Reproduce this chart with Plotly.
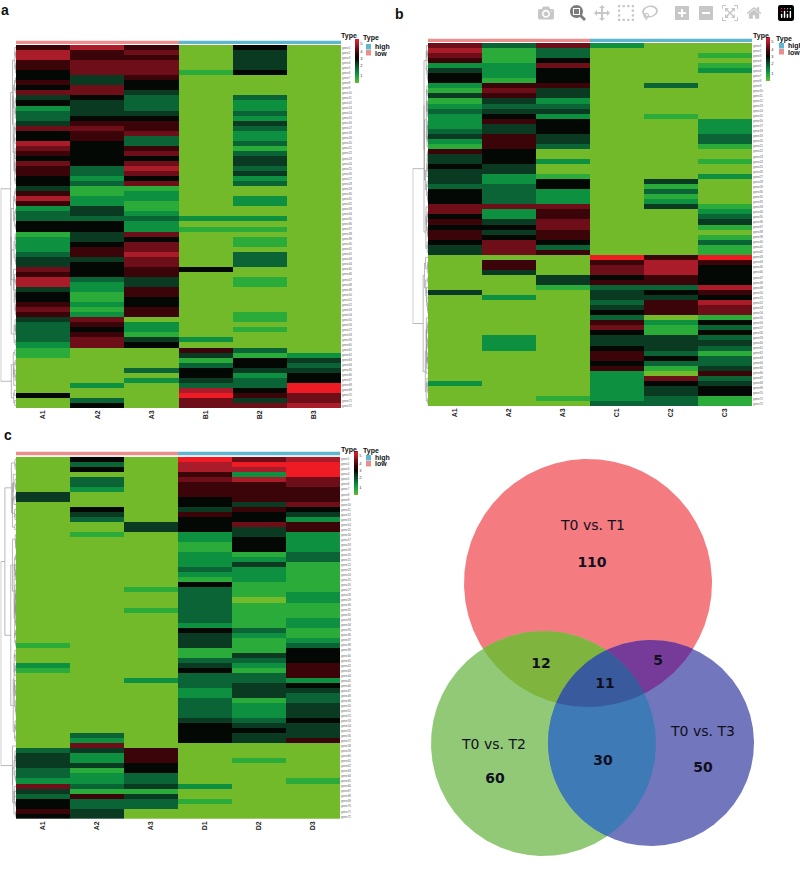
import numpy as np
import plotly.graph_objects as go

W, H = 800, 869

# expression levels: 0 = lime ... 5 = black ... 9 = bright red
a_A1 = [6,8,8,6,6,5,5,6,5,7, 4,5,2,3,3,4,7,5,5,8, 7,6,5,7,6,6,5,5,4,6, 8,6,2,3,3,5,5,1,2,2,
        2,3,4,4,7,6,8,8,4,5, 5,6,7,6,4,3,3,3,3,2, 1,1,0,0,0,0,0,0,0,5,0,0]
a_A2 = [8,6,6,7,7,7,4,4,7,7, 5,4,4,4,5,6,7,6,6,5, 5,5,5,5,3,3,2,3,1,1, 2,2,4,4,3,5,5,4,4,5,
        6,6,4,5,5,5,3,2,2,1, 1,2,1,2,7,6,5,6,7,7, 0,0,0,0,0,0,0,2,0,0,3,5]
a_A3 = [6,7,6,7,7,7,6,5,5,4, 3,3,3,4,5,6,6,7,3,3, 6,7,5,7,8,7,5,7,1,2, 2,1,1,2,3,2,2,7,5,7,
        7,8,7,7,6,6,4,4,6,6, 5,5,6,6,0,2,2,1,4,5, 0,0,0,0,3,0,2,0,0,0,0,0]
a_B1 = [0,0,0,0,0,1,0,0,0,0, 0,0,0,0,0,0,0,0,0,0, 0,0,0,0,0,0,0,0,0,0, 0,0,0,0,2,0,1,0,0,0,
        0,0,0,0,5,0,0,0,0,0, 0,0,0,0,0,0,0,0,2,0, 6,4,1,3,5,5,4,3,8,9,7,7]
a_B2 = [5,4,4,4,4,5,0,0,0,0, 3,2,2,3,2,4,3,2,2,3, 1,3,4,4,3,4,2,3,0,0, 2,2,0,0,2,0,1,0,1,1,
        0,3,3,3,0,0,1,1,0,0, 0,0,0,1,1,0,1,0,0,0, 3,1,5,5,4,2,3,3,5,6,4,7]
a_B3 = [0,0,0,0,0,0,0,0,0,0, 0,0,0,0,0,0,0,0,0,0, 0,0,0,0,0,0,0,0,0,0, 0,0,0,0,0,0,0,0,0,0,
        0,0,0,0,0,0,0,0,0,0, 0,0,0,0,0,0,0,0,0,0, 0,2,4,3,4,5,5,9,9,7,7,8]

b_A1 = [7,8,7,6,2,4,5,5,2,1, 4,1,2,3,2,2,2,3,4,2, 1,6,4,4,5,4,4,4,3,5, 5,5,7,7,5,6,5,6,6,5,
        4,4,0,0,0,0,0,0,0,4, 0,0,0,0,0,0,0,0,0,0, 0,0,0,0,0,0,0,2,0,0,0,0]
b_A2 = [3,1,1,1,2,2,2,1,6,7, 6,4,3,4,5,6,4,4,6,6, 6,5,5,5,4,4,2,2,3,3, 3,3,7,2,2,4,5,4,5,7,
        7,7,0,6,6,4,0,0,0,0, 2,0,0,0,0,0,0,0,2,2, 2,0,0,0,0,0,0,0,0,0,0,0]
b_A3 = [7,3,3,5,7,5,5,5,6,4, 4,2,3,4,2,5,5,5,4,4, 3,0,0,2,0,0,1,5,5,2, 2,2,7,6,6,7,7,6,6,5,
        3,6,0,0,0,0,4,4,1,0, 0,0,0,0,0,0,0,0,0,0, 0,0,0,0,0,0,0,0,0,0,1,0]
b_C1 = [2,0,0,0,0,0,0,0,0,0, 0,0,0,0,0,0,0,0,0,0, 0,0,0,0,0,0,0,0,0,0, 0,0,0,0,0,0,0,0,0,0,
        0,0,9,6,7,7,5,6,3,4, 4,3,4,5,3,6,7,5,4,4, 5,6,6,5,6,2,2,2,2,2,2,3]
b_C2 = [0,0,0,0,0,0,0,0,3,0, 0,0,0,0,1,0,0,0,0,0, 0,0,0,0,0,0,0,4,1,3, 1,2,4,0,0,0,0,0,0,0,
        0,0,6,8,8,8,6,6,3,5, 4,6,6,6,0,2,1,1,4,4, 4,3,5,3,1,0,7,5,4,4,3,3]
b_C3 = [0,0,1,0,1,2,0,0,0,0, 0,0,0,0,0,2,2,2,3,3, 1,0,0,1,0,0,2,0,0,0, 0,0,1,2,3,4,1,0,1,3,
        1,1,9,6,5,5,5,5,8,6, 5,8,7,7,1,5,3,5,3,4, 3,1,3,3,4,6,3,4,5,5,1,1]

c_A1 = [0,0,0,0,0,0,0,4,4,0, 0,0,0,0,0,0,0,0,0,0, 0,0,0,0,0,0,0,0,0,0, 0,0,0,0,0,0,0,1,0,0,
        0,2,1,0,0,0,0,0,0,0, 0,0,0,0,0,0,0,0,3,4, 4,4,3,3,2,7,4,3,5,5,6,5]
c_A2 = [5,3,5,0,3,3,2,0,0,0, 5,4,3,0,0,1,0,0,0,0, 0,0,0,0,0,0,0,0,0,0, 0,0,0,0,0,0,0,0,0,0,
        0,0,0,0,0,0,0,0,0,0, 0,0,0,0,0,3,2,7,4,2, 2,4,1,2,2,3,1,6,3,3,4,4]
c_A3 = [0,0,0,0,0,0,0,0,0,0, 0,0,0,4,4,0,0,0,0,0, 0,0,0,0,0,0,1,0,0,0, 1,0,0,0,0,0,0,0,0,0,
        0,0,0,0,2,0,0,0,0,0, 0,0,0,0,0,0,0,0,6,6, 6,5,5,3,3,4,1,4,3,3,0,0]
c_D1 = [9,8,8,6,7,6,6,6,5,5, 4,6,5,5,5,2,2,1,1,2, 2,2,3,2,1,5,3,3,3,3, 3,3,3,2,5,4,4,4,1,1,
        3,4,5,3,3,3,2,2,3,3, 3,3,4,5,5,5,5,0,0,0, 0,0,0,0,0,2,0,0,1,0,0,0]
c_D2 = [7,9,8,2,8,6,6,6,6,4, 6,5,5,7,4,4,5,5,5,1, 2,4,2,2,2,1,1,1,0,1, 1,1,1,1,3,2,1,1,1,4,
        3,2,1,3,3,4,4,4,1,2, 2,2,3,4,5,4,4,0,0,0, 1,0,0,0,0,0,0,0,0,0,0,0]
c_D3 = [8,9,9,9,7,7,6,6,6,7, 5,4,2,6,6,2,2,2,2,3, 3,1,1,1,1,1,1,2,2,1, 1,1,2,2,1,1,2,3,5,5,
        5,6,6,6,2,5,4,3,3,4, 4,4,5,4,4,4,6,0,0,0, 0,0,0,0,1,0,0,0,0,0,0,0]

labels_a = ["A1", "A2", "A3", "B1", "B2", "B3"]
labels_b = ["A1", "A2", "A3", "C1", "C2", "C3"]
labels_c = ["A1", "A2", "A3", "D1", "D2", "D3"]
sample_type = [0, 0, 0, 1, 1, 1]  # low, low, low, high, high, high
colorbar_ticks = ["1", "2", "3", "4", "5"]

venn_names = ["T0 vs. T1", "T0 vs. T2", "T0 vs. T3"]
venn_totals = [110, 60, 50]
venn_pairs = [12, 5, 30]  # T1&T2, T1&T3, T2&T3
venn_all = 11

heat_scale = [[0, "#72ba2a"], [1/9, "#2bab3a"], [2/9, "#0d9140"], [3/9, "#0a6435"], [4/9, "#0a3a22"],
              [5/9, "#040804"], [6/9, "#3a0408"], [7/9, "#6e0e18"], [8/9, "#aa1c2a"], [1, "#ee1a24"]]
type_scale = [[0, "#ea8f8d"], [1, "#5cb7cf"]]
FONT = "Liberation Sans"


def xdom(a, b):
    return [a / W, b / W]


def ydom(top, bottom):
    return [1 - bottom / H, 1 - top / H]


def dendro_lines(rows):
    # adjacent-only clustering so the leaves stay in the heatmap's row order
    clusters = [dict(y=i, h=0.0, v=r.astype(float), n=1) for i, r in enumerate(rows)]
    xs, ys = [], []
    while len(clusters) > 1:
        d = []
        for p, q in zip(clusters[:-1], clusters[1:]):
            w = p["n"] * q["n"] / (p["n"] + q["n"])
            d.append(np.sqrt(2 * w) * np.linalg.norm(p["v"] - q["v"]))
        k = int(np.argmin(d))
        p, q = clusters[k], clusters[k + 1]
        h = max(d[k], p["h"], q["h"])
        xs += [p["h"], h, h, q["h"], None]
        ys += [p["y"], p["y"], q["y"], q["y"], None]
        n = p["n"] + q["n"]
        clusters[k:k + 2] = [dict(y=(p["y"] + q["y"]) / 2, h=h, n=n,
                                  v=(p["v"] * p["n"] + q["v"] * q["n"]) / n)]
    return xs, ys


panels = [
    dict(cols=[a_A1, a_A2, a_A3, a_B1, a_B2, a_B3], labels=labels_a, x0=16, x1=341, y0=45, y1=408, bar=(40.5, 44),
         cb=(355, 39, 44), t1=(349, 36), t2=(371, 38), leg=(366, 44), letter=(5, 10), name="a"),
    dict(cols=[b_A1, b_A2, b_A3, b_C1, b_C2, b_C3], labels=labels_b, x0=428, x1=752, y0=43, y1=406, bar=(38.5, 42),
         cb=(766, 37, 44), t1=(761, 36), t2=(784, 39), leg=(779, 43), letter=(399, 14), name="b"),
    dict(cols=[c_A1, c_A2, c_A3, c_D1, c_D2, c_D3], labels=labels_c, x0=16, x1=340, y0=456.7, y1=819, bar=(451.5, 455.5),
         cb=(354, 451, 44), t1=(349, 450), t2=(371, 451), leg=(366, 455), letter=(8, 435), name="c"),
]

fig = go.Figure()
axes, notes, shapes = {}, [], []
n_ax = 0
for p in panels:
    z = np.array(p["cols"]).T
    row_names = [f"gene{i + 1}" for i in range(z.shape[0])]

    n_ax += 1
    k = n_ax
    fig.add_trace(go.Heatmap(
        z=z, x=p["labels"], y=list(range(z.shape[0])), xaxis=f"x{k}", yaxis=f"y{k}",
        colorscale=heat_scale, zmin=0, zmax=9, xgap=0, ygap=0, hoverinfo="skip",
        colorbar=dict(x=p["cb"][0] / W, xanchor="left", y=1 - p["cb"][1] / H, yanchor="top",
                      len=p["cb"][2], lenmode="pixels", thickness=4, thicknessmode="pixels",
                      xpad=0, ypad=0, outlinewidth=0, ticks="", tickvals=[1.5, 3.5, 5, 6.5, 8],
                      ticktext=colorbar_ticks, tickfont=dict(size=4, color="#333", family=FONT)),
    ))
    axes[f"xaxis{k}"] = dict(domain=xdom(p["x0"], p["x1"]), anchor=f"y{k}", showgrid=False, zeroline=False,
                             tickmode="array", tickvals=p["labels"],
                             ticktext=[f"<b>{s}</b>" for s in p["labels"]], tickangle=-90,
                             tickfont=dict(size=7, color="#222", family=FONT), ticks="", ticklen=0)
    axes[f"yaxis{k}"] = dict(domain=ydom(p["y0"], p["y1"]), anchor=f"x{k}", side="right", autorange="reversed",
                             showgrid=False, zeroline=False, tickmode="array", tickvals=list(range(z.shape[0])),
                             ticktext=row_names, tickfont=dict(size=3, color="#666", family=FONT), ticks="")

    # sample type strip
    n_ax += 1
    fig.add_trace(go.Heatmap(z=[sample_type], x=p["labels"], xaxis=f"x{n_ax}", yaxis=f"y{n_ax}",
                             colorscale=type_scale, zmin=0, zmax=1, showscale=False, hoverinfo="skip"))
    axes[f"xaxis{n_ax}"] = dict(domain=xdom(p["x0"], p["x1"]), anchor=f"y{n_ax}", visible=False)
    axes[f"yaxis{n_ax}"] = dict(domain=ydom(*p["bar"]), anchor=f"x{n_ax}", visible=False)

    # row dendrogram
    n_ax += 1
    dx, dy = dendro_lines(z)
    fig.add_trace(go.Scatter(x=dx, y=dy, mode="lines", line=dict(color="#8c8c8c", width=0.6),
                             xaxis=f"x{n_ax}", yaxis=f"y{n_ax}", hoverinfo="skip", showlegend=False))
    axes[f"xaxis{n_ax}"] = dict(domain=xdom(p["x0"] - 15.5, p["x0"]), anchor=f"y{n_ax}", visible=False,
                                range=[max(v for v in dx if v is not None) * 1.02, 0])
    axes[f"yaxis{n_ax}"] = dict(domain=ydom(p["y0"], p["y1"]), anchor=f"x{n_ax}", visible=False,
                                range=[z.shape[0] - 0.5, -0.5])

    def note(px, py, text, size, xanchor="center"):
        notes.append(dict(x=px / W, y=1 - py / H, xref="paper", yref="paper", text=text, showarrow=False,
                          xanchor=xanchor, yanchor="middle", font=dict(size=size, color="#111", family=FONT)))

    note(p["letter"][0], p["letter"][1], f"<b>{p['name']}</b>", 14)
    note(p["t1"][0], p["t1"][1], "<b>Type</b>", 7)
    note(p["t2"][0], p["t2"][1], "<b>Type</b>", 7)
    lx, ly = p["leg"]
    for i, (word, color) in enumerate([("high", type_scale[1][1]), ("low", type_scale[0][1])]):
        shapes.append(dict(type="rect", xref="paper", yref="paper", line_width=0, fillcolor=color,
                           x0=lx / W, x1=(lx + 5) / W, y0=1 - (ly + 6 * i) / H, y1=1 - (ly + 6 * i + 5.5) / H))
        note(lx + 7, ly + 3 + 6 * i, f"<b>{word}</b>", 7, xanchor="left")

# Venn panel, drawn in page pixels
n_ax += 1
vx, vy = f"x{n_ax}", f"y{n_ax}"
axes[f"xaxis{n_ax}"] = dict(domain=xdom(400, 800), range=[400, 800], anchor=vy, visible=False)
axes[f"yaxis{n_ax}"] = dict(domain=ydom(440, 869), range=[869, 440], anchor=vx, visible=False)
circles = [(588, 583, 124), (543.5, 743.5, 112.5), (651, 743, 103)]
circle_colors = ["#f47b80", "#92c977", "#7276bc"]
region_colors = {(0, 1): "#7fb53f", (0, 2): "#763b98", (1, 2): "#3e7ab6", (0, 1, 2): "#3a5a9e"}
theta = np.linspace(0, 2 * np.pi, 721)


def inside(px, py, c):
    return (px - c[0]) ** 2 + (py - c[1]) ** 2 <= c[2] ** 2 + 1e-6


def region(ids):
    # boundary points of a convex intersection, sorted by angle round its centre
    pts = []
    for i in ids:
        cx, cy, r = circles[i]
        px, py = cx + r * np.cos(theta), cy + r * np.sin(theta)
        keep = np.all([inside(px, py, circles[j]) for j in ids if j != i], axis=0)
        pts.append(np.column_stack([px[keep], py[keep]]))
    pts = np.vstack(pts)
    mid = pts.mean(axis=0)
    order = np.argsort(np.arctan2(pts[:, 1] - mid[1], pts[:, 0] - mid[0]))
    pts = pts[order]
    return np.append(pts[:, 0], pts[0, 0]), np.append(pts[:, 1], pts[0, 1])


for (cx, cy, r), color in zip(circles, circle_colors):
    fig.add_trace(go.Scatter(x=cx + r * np.cos(theta), y=cy + r * np.sin(theta), mode="lines", fill="toself",
                             fillcolor=color, line=dict(width=0, color=color), xaxis=vx, yaxis=vy,
                             hoverinfo="skip", showlegend=False))
for ids, color in region_colors.items():
    rx, ry = region(ids)
    fig.add_trace(go.Scatter(x=rx, y=ry, mode="lines", fill="toself", fillcolor=color,
                             line=dict(width=0, color=color), xaxis=vx, yaxis=vy,
                             hoverinfo="skip", showlegend=False))

fig.add_trace(go.Scatter(x=[593, 494, 703], y=[526, 745, 732], text=venn_names, mode="text", xaxis=vx, yaxis=vy,
                         textfont=dict(size=14, color="#101020", family="DejaVu Sans"),
                         hoverinfo="skip", showlegend=False))
count_text = [str(v) for v in venn_totals + venn_pairs + [venn_all]]
fig.add_trace(go.Scatter(x=[592, 495, 703, 541, 658, 603, 605], y=[563, 779, 768, 664, 661, 761, 684],
                         text=[f"<b>{t}</b>" for t in count_text], mode="text", xaxis=vx, yaxis=vy,
                         textfont=dict(size=14, color="#101020", family="DejaVu Sans"),
                         hoverinfo="skip", showlegend=False))

fig.update_layout(width=W, height=H, margin=dict(l=0, r=0, t=0, b=0), autosize=False,
                  paper_bgcolor="white", plot_bgcolor="white", showlegend=False,
                  annotations=notes, shapes=shapes, **axes)
fig.write_html("out.html", post_script="document.body.style.margin = '0';")
